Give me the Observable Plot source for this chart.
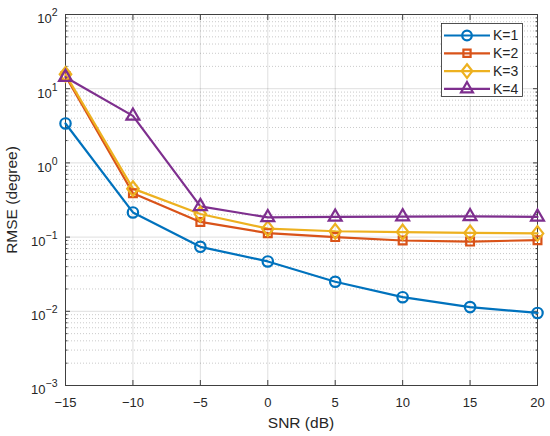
<!DOCTYPE html>
<html><head><meta charset="utf-8">
<script src="https://cdn.jsdelivr.net/npm/d3@7"></script>
<script src="https://cdn.jsdelivr.net/npm/@observablehq/plot@0.6"></script>
<style>
body{margin:0;background:#fff;}
#chart svg{display:block;}
</style>
</head><body><div id="chart"></div>
<script>
// ---- data ----
const snr = [-15, -10, -5, 0, 5, 10, 15, 20];
const rmseK1 = [3.4, 0.215, 0.074, 0.047, 0.025, 0.0155, 0.0114, 0.0095];
const rmseK2 = [14.8, 0.39, 0.16, 0.113, 0.100, 0.090, 0.087, 0.091];
const rmseK3 = [15.6, 0.45, 0.205, 0.13, 0.12, 0.117, 0.114, 0.112];
const rmseK4 = [14.3, 4.3, 0.26, 0.184, 0.187, 0.189, 0.19, 0.187];
const seriesNames = ["K=1", "K=2", "K=3", "K=4"];
const seriesColors = ["#0072BD", "#D95319", "#EDB120", "#7E2F8E"];
const xTicks = [-15, -10, -5, 0, 5, 10, 15, 20];
const yTicks = [1e-3, 1e-2, 1e-1, 1, 10, 100];
const yTickExp = ["−3", "−2", "−1", "0", "1", "2"];
const xLabel = "SNR (dB)";
const yLabel = "RMSE (degree)";

const seriesValues = [rmseK1, rmseK2, rmseK3, rmseK4];
const rows = seriesNames.flatMap((k, i) => snr.map((s, j) => ({snr: s, rmse: seriesValues[i][j], k})));
const minorY = d3.range(-3, 2).flatMap(e => d3.range(2, 10).map(m => m * Math.pow(10, e)));

// custom MATLAB-like diamond
const diamond = {draw(ctx, size) { const a = Math.sqrt(size / 1.56); const w = a * 0.78; ctx.moveTo(0, -a); ctx.lineTo(w, 0); ctx.lineTo(0, a); ctx.lineTo(-w, 0); ctx.closePath(); }};
const symbols = [d3.symbolCircle, d3.symbolSquare, diamond, d3.symbolTriangle];
const markerR = [5.2, 4.4, 5.2, 4.8];

const font = '"Liberation Sans", Arial, Helvetica, sans-serif';
const axisColor = "#404040";
const fmtX = d => d < 0 ? "−" + Math.abs(d) : String(d);
const fmtY = d => "10^" + yTickExp[yTicks.findIndex(t => Math.abs(Math.log10(t) - Math.log10(d)) < 1e-6)];

const chart = Plot.plot({
  width: 550, height: 436,
  marginTop: 14, marginRight: 13, marginBottom: 51, marginLeft: 65,
  style: {fontFamily: font, fontSize: "13px", color: "#262626", background: "#fff"},
  x: {domain: [-15, 20]},
  y: {type: "log", domain: [1e-3, 1e2]},
  color: {domain: seriesNames, range: seriesColors},
  symbol: {domain: seriesNames, range: symbols},
  marks: [
    Plot.ruleY(minorY, {stroke: "#bdbdbd", strokeDasharray: "1,2", strokeWidth: 0.8}),
    Plot.gridY(yTicks, {stroke: "#000", strokeOpacity: 0.13, strokeWidth: 1}),
    Plot.gridX(xTicks, {stroke: "#000", strokeOpacity: 0.13, strokeWidth: 1}),
    Plot.frame({stroke: axisColor, strokeWidth: 1}),
    // ticks (inward) on all sides
    Plot.axisX(xTicks, {tickSize: -5, tickFormat: () => "", label: null, stroke: axisColor}),
    Plot.axisX(xTicks, {anchor: "top", tickSize: -5, tickFormat: () => "", label: null, stroke: axisColor}),
    Plot.axisY(yTicks, {tickSize: -5, tickFormat: () => "", label: null, stroke: axisColor}),
    Plot.axisY(yTicks, {anchor: "right", tickSize: -5, tickFormat: () => "", label: null, stroke: axisColor}),
    Plot.axisY(minorY, {tickSize: -2.5, tickFormat: () => "", label: null, stroke: axisColor}),
    Plot.axisY(minorY, {anchor: "right", tickSize: -2.5, tickFormat: () => "", label: null, stroke: axisColor}),
    // tick labels
    Plot.axisX(xTicks, {tickSize: 0, tickPadding: 12, tickFormat: fmtX, label: null, fill: "#262626", fontSize: 13}),
    Plot.axisY(yTicks, {tickSize: 0, tickPadding: 8, tickFormat: fmtY, label: null, fill: "#262626", fontSize: 13}),
    // series
    Plot.line(rows, {x: "snr", y: "rmse", z: "k", stroke: "k", strokeWidth: 2.2}),
    ...seriesNames.map((k, i) => Plot.dot(rows.filter(r => r.k === k), {x: "snr", y: "rmse", stroke: "k", symbol: "k", r: markerR[i], strokeWidth: 2.2, fill: "none"}))
  ]
});

document.getElementById("chart").appendChild(chart);
const svg = d3.select(chart);

// superscript exponents in y tick labels
svg.selectAll('g[aria-label="y-axis tick label"] text').each(function() {
  const t = d3.select(this);
  const s = t.text();
  if (!s.startsWith("10^")) return;
  const exp = s.slice(3);
  t.text("10").attr("dy", "0.36em");
  t.append("tspan").attr("dy", "-7").attr("font-size", "10.5px").text(exp);
});

// axis titles
svg.append("text").attr("x", 301).attr("y", 428).attr("text-anchor", "middle")
  .attr("font-family", font).attr("font-size", 15.5).attr("fill", "#262626").text(xLabel);
svg.append("text").attr("transform", "translate(17,200) rotate(-90)").attr("text-anchor", "middle")
  .attr("font-family", font).attr("font-size", 15.5).attr("fill", "#262626").text(yLabel);

// legend
const lg = svg.append("g").attr("font-family", font).attr("font-size", 14).attr("text-anchor", "start");
lg.append("rect").attr("x", 441.5).attr("y", 23.5).attr("width", 81).attr("height", 73)
  .attr("fill", "#fff").attr("stroke", "#262626").attr("stroke-width", 0.8);
seriesNames.forEach((k, i) => {
  const yy = 35.5 + i * 17.8;
  lg.append("line").attr("x1", 444).attr("x2", 490).attr("y1", yy).attr("y2", yy)
    .attr("stroke", seriesColors[i]).attr("stroke-width", 2.2);
  lg.append("path").attr("transform", `translate(467,${yy})`)
    .attr("d", d3.symbol(symbols[i], Math.PI * markerR[i] * markerR[i] * 0.85)())
    .attr("fill", "none").attr("stroke", seriesColors[i]).attr("stroke-width", 2.2);
  lg.append("text").attr("x", 493).attr("y", yy).attr("dy", "0.35em").attr("fill", "#262626").text(k);
});
</script>
</body></html>
